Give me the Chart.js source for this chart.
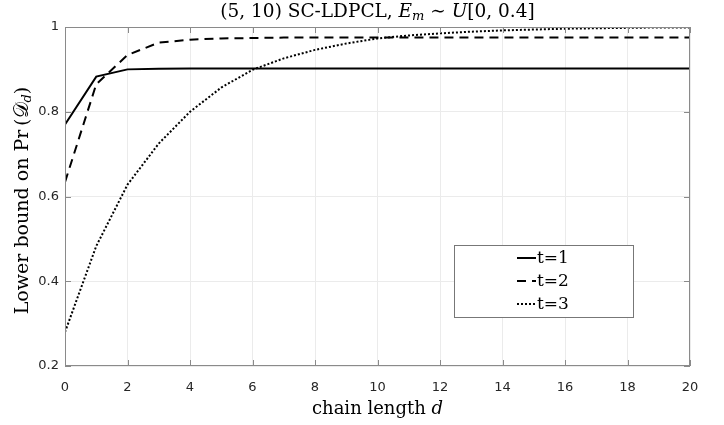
<!DOCTYPE html>
<html>
<head>
<meta charset="utf-8">
<script src="https://cdn.jsdelivr.net/npm/chart.js@4.4.1/dist/chart.umd.min.js"></script>
<style>
html,body{margin:0;padding:0;background:#fff;}
#wrap{width:724px;height:425px;position:relative;}
</style>
</head>
<body>
<div id="wrap"><canvas id="c" width="724" height="425"></canvas></div>
<script>
// ---- data ----
const chainLength = [0,1,2,3,4,5,6,7,8,9,10,11,12,13,14,15,16,17,18,19,20];
const seriesT1 = [0.770,0.883,0.900,0.9015,0.902,0.902,0.902,0.902,0.902,0.902,0.902,0.902,0.902,0.902,0.902,0.902,0.902,0.902,0.902,0.902,0.902];
const seriesT2 = [0.634,0.865,0.934,0.963,0.970,0.973,0.974,0.975,0.975,0.975,0.975,0.975,0.975,0.975,0.975,0.975,0.975,0.975,0.975,0.975,0.975];
const seriesT3 = [0.280,0.483,0.628,0.725,0.800,0.857,0.899,0.926,0.946,0.961,0.973,0.980,0.985,0.989,0.992,0.994,0.996,0.997,0.998,0.999,0.999];
const seriesLabels = ['t=1','t=2','t=3'];
const xTicks = [0,2,4,6,8,10,12,14,16,18,20];
const yTicks = [0.2,0.4,0.6,0.8,1];

const toXY = arr => arr.map((v,i)=>({x:chainLength[i], y:v}));
const dashes = [[], [9,6], [2,2]];

const SERIF = '"DejaVu Serif","Liberation Serif",serif';
const AXIS_COL = '#8a8a8a';

function drawRich(ctx, parts, x, y, align){
  let total = 0;
  parts.forEach(p=>{ctx.font=(p.italic?'italic ':'')+p.size+'px '+(p.family||SERIF); p.w=ctx.measureText(p.t).width; total+=p.w;});
  let cx = align==='center' ? x-total/2 : x;
  parts.forEach(p=>{ctx.font=(p.italic?'italic ':'')+p.size+'px '+(p.family||SERIF); ctx.fillText(p.t,cx,y+(p.dy||0)); cx+=p.w;});
}

const decor = {
  id:'decor',
  afterDatasetsDraw(chart){
    const ctx = chart.ctx, a = chart.chartArea;
    const xs = chart.scales.x, ys = chart.scales.y;
    ctx.save();
    ctx.strokeStyle = AXIS_COL; ctx.lineWidth = 1;
    ctx.strokeRect(a.left+0.5, a.top+0.5, a.right-a.left-1, a.bottom-a.top-1);
    ctx.beginPath();
    xTicks.forEach(v=>{const px=Math.round(xs.getPixelForValue(v))+0.5;
      ctx.moveTo(px,a.bottom); ctx.lineTo(px,a.bottom-6);
      ctx.moveTo(px,a.top); ctx.lineTo(px,a.top+6);});
    yTicks.forEach(v=>{const py=Math.round(ys.getPixelForValue(v))+0.5;
      ctx.moveTo(a.left,py); ctx.lineTo(a.left+6,py);
      ctx.moveTo(a.right,py); ctx.lineTo(a.right-6,py);});
    ctx.stroke();

    // legend
    const lx=454, ly=245, lw=179, lh=72;
    ctx.fillStyle='#fff'; ctx.fillRect(lx,ly,lw,lh);
    ctx.strokeStyle='#777'; ctx.strokeRect(lx+0.5,ly+0.5,lw,lh);
    const rows=[258,281,304];
    chart.data.datasets.forEach((ds,i)=>{
      ctx.strokeStyle='#000'; ctx.lineWidth=2; ctx.setLineDash(dashes[i]);
      ctx.beginPath(); ctx.moveTo(517,rows[i]); ctx.lineTo(536,rows[i]); ctx.stroke();
      ctx.setLineDash([]);
      ctx.fillStyle='#000'; ctx.textAlign='left'; ctx.textBaseline='middle';
      ctx.font='17px '+SERIF; ctx.fillText(ds.label,537,rows[i]+1);
    });

    ctx.fillStyle='#000'; ctx.textBaseline='alphabetic';
    const cx=(a.left+a.right)/2;
    drawRich(ctx,[
      {t:'(5, 10) SC-LDPCL, ',size:18.5},
      {t:'E',italic:true,size:18.5},
      {t:'m',italic:true,size:13,dy:3},
      {t:' \u223C ',size:18.5},
      {t:'U',italic:true,size:18.5},
      {t:'[0, 0.4]',size:18.5}
    ],cx,17,'center');
    drawRich(ctx,[
      {t:'chain length ',size:18},
      {t:'d',italic:true,size:18}
    ],cx,414,'center');
    ctx.save();
    ctx.translate(28,(a.top+a.bottom)/2+4);
    ctx.rotate(-Math.PI/2);
    drawRich(ctx,[
      {t:'Lower bound on Pr\u2009(',size:19},
      {t:'\uD835\uDC9F',size:20,family:'"DejaVu Serif","Noto Sans",serif'},
      {t:'d',italic:true,size:13,dy:3},
      {t:')',size:19}
    ],0,0,'center');
    ctx.restore();
    ctx.restore();
  }
};

new Chart(document.getElementById('c'),{
  type:'line',
  data:{datasets:[
    {label:seriesLabels[0],data:toXY(seriesT1),borderColor:'#000',borderWidth:2,borderDash:dashes[0],pointRadius:0,tension:0},
    {label:seriesLabels[1],data:toXY(seriesT2),borderColor:'#000',borderWidth:2,borderDash:dashes[1],pointRadius:0,tension:0},
    {label:seriesLabels[2],data:toXY(seriesT3),borderColor:'#000',borderWidth:2,borderDash:dashes[2],pointRadius:0,tension:0}
  ]},
  options:{
    responsive:false,animation:false,
    layout:{padding:{left:0,right:34,top:27,bottom:0}},
    plugins:{legend:{display:false},tooltip:{enabled:false},title:{display:false}},
    scales:{
      x:{type:'linear',min:0,max:20,
        afterBuildTicks:s=>{s.ticks=xTicks.map(v=>({value:v}));},
        afterFit:s=>{s.height=59;},
        grid:{color:'#ebebeb',drawTicks:false},
        border:{display:false},
        ticks:{padding:14,color:'#262626',font:{family:'"DejaVu Sans",sans-serif',size:13},maxRotation:0,callback:v=>String(v)}
      },
      y:{type:'linear',min:0.2,max:1,
        afterBuildTicks:s=>{s.ticks=yTicks.map(v=>({value:v}));},
        afterFit:s=>{s.width=65;},
        grid:{color:'#ebebeb',drawTicks:false},
        border:{display:false},
        ticks:{padding:6,color:'#262626',font:{family:'"DejaVu Sans",sans-serif',size:13},callback:v=>String(Math.round(v*10)/10)}
      }
    }
  },
  plugins:[decor]
});
</script>
</body>
</html>
